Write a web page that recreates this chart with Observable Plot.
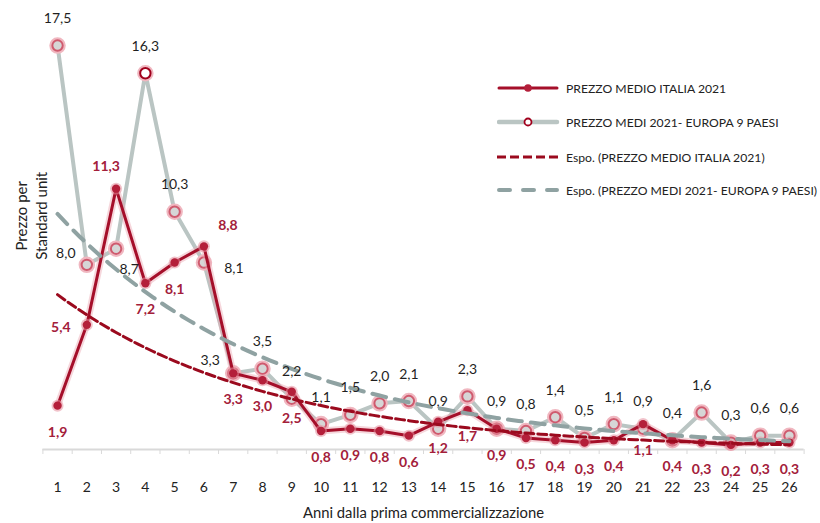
<!DOCTYPE html>
<html><head><meta charset="utf-8">
<script src="https://cdn.jsdelivr.net/npm/d3@7"></script>
<script src="https://cdn.jsdelivr.net/npm/@observablehq/plot@0.6"></script>
<style>
body{margin:0;background:#fff;font-family:Lato,sans-serif}
#wrap{position:relative;width:820px;height:523px;overflow:hidden}
#legend{position:absolute;left:0;top:0}
.row{position:absolute;left:497px;height:14px;display:flex;align-items:center;font-size:12.2px;color:#222;white-space:nowrap}
.row svg{margin-right:5px}
</style></head><body>
<div id="wrap"><div id="chart"></div><div id="legend"></div></div>
<script>
// ---- data ----
const years = [1,2,3,4,5,6,7,8,9,10,11,12,13,14,15,16,17,18,19,20,21,22,23,24,25,26];
const italia = [1.9,5.4,11.3,7.2,8.1,8.8,3.3,3.0,2.5,0.8,0.9,0.8,0.6,1.2,1.7,0.9,0.5,0.4,0.3,0.4,1.1,0.4,0.3,0.2,0.3,0.3];
const europa = [17.5,8.0,8.7,16.3,10.3,8.1,3.3,3.5,2.2,1.1,1.5,2.0,2.1,0.9,2.3,0.9,0.8,1.4,0.5,1.1,0.9,0.4,1.6,0.3,0.6,0.6];
const seriesNames = ["PREZZO MEDIO ITALIA 2021","PREZZO MEDI 2021- EUROPA 9 PAESI"];
const trendNames = ["Espo. (PREZZO MEDIO ITALIA 2021)","Espo. (PREZZO MEDI 2021- EUROPA 9 PAESI)"];
const xTitle = "Anni dalla prima commercializzazione";
const yTitle = "Prezzo per\nStandard unit";

// ---- layout / style ----
const RED = "#a50f2a", RED_LBL = "#a3203a", GREY = "#bac5c3", GREY_TR = "#8fa2a2";
const fmt = v => v.toFixed(1).replace(".", ",");

const itRows = years.map((x,i)=>({x, v: italia[i]}));
const euRows = years.map((x,i)=>({x, v: europa[i]}));

// Excel-style exponential trendline: least squares on ln(y)
function expFit(ys){
  const ly = ys.map(Math.log);
  const mx = d3.mean(years), ml = d3.mean(ly);
  let num=0, den=0;
  years.forEach((x,i)=>{num += (x-mx)*(ly[i]-ml); den += (x-mx)**2;});
  const b = num/den, a = ml - b*mx;
  return x => Math.exp(a + b*x);
}
const fIt = expFit(italia), fEu = expFit(europa);
const xs = d3.range(1, 26.001, 0.25);
const trendIt = xs.map(x=>({x, v: fIt(x)}));
const trendEu = xs.map(x=>({x, v: fEu(x)}));

// label placement (offsets in px): defaults + exceptions
const itDefault = [0, 26.5], itOver = {2:[-26,3], 3:[-10,-22], 6:[24,-21]};
const euDefault = [0, -27], euOver = {2:[-21,-11], 3:[13,21], 6:[30,6], 7:[-23,-13]};
function labelMarks(rows, def, over, opts){
  const marks = [Plot.text(rows.filter(d=>!over[d.x]), {x:"x", y:"v", text:d=>fmt(d.v), dx:def[0], dy:def[1], ...opts})];
  for (const k of Object.keys(over)) {
    const [dx,dy] = over[k];
    marks.push(Plot.text(rows.filter(d=>d.x===+k), {x:"x", y:"v", text:d=>fmt(d.v), dx, dy, ...opts}));
  }
  return marks;
}
const bounds = years.map(x=>x-0.5).concat([26.5]);

const chart = Plot.plot({
  width: 820, height: 523,
  marginLeft: 42.4, marginRight: 16.4, marginTop: 33.5, marginBottom: 74,
  x: {type: "linear", domain: [0.5, 26.5]},
  y: {domain: [0, 18], axis: null},
  style: {fontFamily: "Lato, sans-serif", background: "#fff"},
  marks: [
    Plot.ruleY([0], {stroke: "#d9d9d9", strokeWidth: 2}),
    Plot.axisX(bounds, {tickSize: 5, tickFormat: () => "", stroke: "#d9d9d9", label: null}),
    Plot.axisX(years, {tickSize: 0, tickPadding: 33, fontSize: 14, fill: "#222", label: null, tickFormat: d => String(d)}),
    Plot.text([xTitle], {frameAnchor: "bottom", dy: 68, fontSize: 14.8, fill: "#222"}),
    Plot.text([yTitle], {frameAnchor: "left", rotate: -90, dx: -12, dy: -26, fontSize: 15, lineHeight: 1.3, fill: "#222", textAnchor: "middle"}),
    // Europe series
    Plot.line(euRows, {x: "x", y: "v", stroke: GREY, strokeWidth: 4}),
    Plot.dot(euRows, {x: "x", y: "v", r: 7, fill: "none", stroke: "#f0b7c0", strokeWidth: 2.5}),
    Plot.dot(euRows, {x: "x", y: "v", r: 5.2, fill: d => d.x === 4 ? "#fff" : "#d6d6d6", stroke: d => d.x === 4 ? "#a0001c" : "#cf5a6e", strokeWidth: 2}),
    // Italy series
    Plot.line(itRows, {x: "x", y: "v", stroke: "#eaa6b1", strokeWidth: 7, strokeOpacity: 0.45}),
    Plot.line(itRows, {x: "x", y: "v", stroke: RED, strokeWidth: 3}),
    Plot.dot(itRows, {x: "x", y: "v", r: 6, fill: "#e6909e", fillOpacity: 0.55}),
    Plot.dot(itRows, {x: "x", y: "v", r: 4.2, fill: "#b41f3a"}),
    // trends
    Plot.line(trendIt, {x: "x", y: "v", stroke: "#9b0a1e", strokeWidth: 3, strokeDasharray: "9,4"}),
    Plot.line(trendEu, {x: "x", y: "v", stroke: GREY_TR, strokeWidth: 4, strokeDasharray: "14,9", strokeLinecap: "round"}),
    // labels
    ...labelMarks(euRows, euDefault, euOver, {fontSize: 14, fill: "#1f1f1f"}),
    ...labelMarks(itRows, itDefault, itOver, {fontSize: 14, fill: RED_LBL, fontWeight: "bold"})
  ]
});
document.getElementById("chart").appendChild(chart);

// ---- legend ----
const legend = document.getElementById("legend");
const items = [
  {name: seriesNames[0], top: 81, sw: `<line x1="2" y1="7" x2="60" y2="7" stroke="${RED}" stroke-width="3" stroke-linecap="round"/><circle cx="31" cy="7" r="3.8" fill="#b41f3a"/>`},
  {name: seriesNames[1], top: 115, sw: `<line x1="2" y1="7" x2="60" y2="7" stroke="${GREY}" stroke-width="4.5" stroke-linecap="round"/><circle cx="31" cy="7" r="3.5" fill="#fff" stroke="#a0001c" stroke-width="1.8"/>`},
  {name: trendNames[0], top: 150, sw: `<line x1="0" y1="7" x2="62" y2="7" stroke="#9b0a1e" stroke-width="3" stroke-dasharray="9,4"/>`},
  {name: trendNames[1], top: 183, sw: `<line x1="2" y1="7" x2="60" y2="7" stroke="${GREY_TR}" stroke-width="4" stroke-dasharray="11,13" stroke-linecap="round"/>`}
];
for (const it of items) {
  const row = document.createElement("div");
  row.className = "row";
  row.style.top = it.top + "px";
  row.innerHTML = `<svg width="64" height="14">${it.sw}</svg><span>${it.name}</span>`;
  legend.appendChild(row);
}
</script>
</body></html>
